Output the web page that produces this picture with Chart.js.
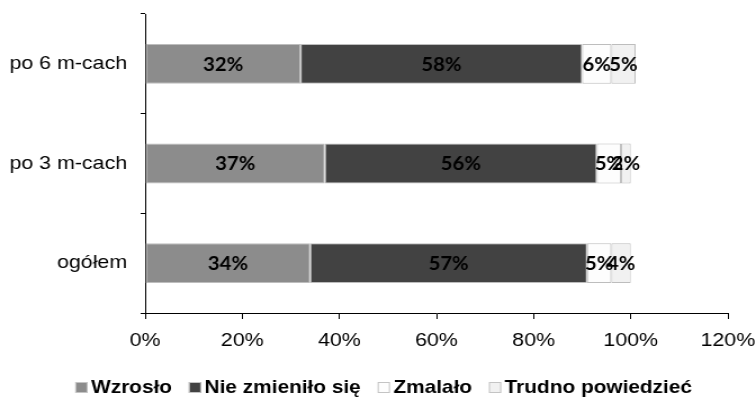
<!DOCTYPE html>
<html lang="pl">
<head>
<meta charset="utf-8">
<title>Ocena zmiany</title>
<script src="https://cdn.jsdelivr.net/npm/chart.js@4.4.1/dist/chart.umd.min.js"></script>
<style>
    html, body { margin: 0; padding: 0; background: #fff; overflow: hidden; }
    /* the reference is a little wider than tall in its text, so stretch the whole canvas */
    #wrap { width: 672px; height: 404px; transform: scaleX(1.125); transform-origin: 0 0; }
</style>
</head>
<body>
<div id="wrap"><canvas id="wykres" width="672" height="404"></canvas></div>
<script>
// ============================================================================
// DATA
// ============================================================================
const kategorie = ["po 6 m-cach", "po 3 m-cach", "ogółem"];
const nazwySerii = ["Wzrosło", "Nie zmieniło się", "Zmalało", "Trudno powiedzieć"];

const wzroslo     = [32, 37, 34];
const nieZmienilo = [58, 56, 57];
const zmalalo     = [6, 5, 5];
const trudno      = [5, 2, 4];

const tickiX = [0, 20, 40, 60, 80, 100, 120];

const kolory = ["#8c8c8c", "#424242", "#fdfdfd", "#f1f1f1"];

// ============================================================================
// PLUGIN: percentage labels in the middle of each segment
// ============================================================================
const etykietyPlugin = {
    id: "etykiety",
    afterDatasetsDraw(chart) {
        const ctx = chart.ctx;
        ctx.save();
        ctx.font = "bold 18px Lato, 'DejaVu Sans', sans-serif";
        ctx.fillStyle = "#000";
        ctx.textAlign = "center";
        ctx.textBaseline = "middle";
        chart.data.datasets.forEach((ds, i) => {
            chart.getDatasetMeta(i).data.forEach((bar, j) => {
                const p = bar.getProps(["x", "y", "base"], true);
                ctx.fillText(ds.data[j] + "%", (p.x + p.base) / 2, p.y + 1);
            });
        });
        ctx.restore();
    }
};

// ============================================================================
// PLUGIN: bottom legend (small square close to bold text, like Excel)
// ============================================================================
const legendaPlugin = {
    id: "legendaDol",
    afterDraw(chart) {
        const ctx = chart.ctx;
        const box = 11, gap = 3, odstep = 15;
        ctx.save();
        ctx.font = "bold 18.5px 'Liberation Sans', Arial, sans-serif";
        ctx.textBaseline = "alphabetic";
        ctx.textAlign = "left";

        const ds = chart.data.datasets;
        const szer = ds.map(d => ctx.measureText(d.label).width);
        const calosc = szer.reduce((a, w) => a + box + gap + w, 0) + odstep * (ds.length - 1);
        let x = (chart.width - calosc) / 2 + 5;
        const y = 393;

        ds.forEach((d, i) => {
            ctx.fillStyle = d.backgroundColor;
            ctx.fillRect(x, y - box, box, box);
            ctx.strokeStyle = "#c4c4c4";
            ctx.lineWidth = 1;
            ctx.strokeRect(x + 0.5, y - box + 0.5, box - 1, box - 1);
            ctx.fillStyle = "#000";
            ctx.fillText(d.label, x + box + gap, y);
            x += box + gap + szer[i] + odstep;
        });
        ctx.restore();
    }
};

// ============================================================================
// CHART
// ============================================================================
const serie = [wzroslo, nieZmienilo, zmalalo, trudno];

new Chart(document.getElementById("wykres"), {
    type: "bar",
    data: {
        labels: kategorie,
        datasets: serie.map((dane, i) => ({
            label: nazwySerii[i],
            data: dane,
            backgroundColor: kolory[i],
            borderColor: "#bdbdbd",
            borderWidth: 1,
            borderSkipped: false,
            barPercentage: 0.4,
            categoryPercentage: 1
        }))
    },
    options: {
        indexAxis: "y",
        responsive: false,
        animation: false,
        layout: { padding: { top: 14, right: 25, bottom: 53, left: 0 } },
        plugins: {
            legend: { display: false },
            tooltip: { enabled: false }
        },
        scales: {
            x: {
                stacked: true,
                min: 0,
                max: 120,
                afterBuildTicks: s => { s.ticks = tickiX.map(v => ({ value: v })); },
                // fixed height, and no extra room for the edge labels
                afterFit: s => { s.height = 38; s.paddingLeft = 0; s.paddingRight = 0; },
                grid: { drawOnChartArea: false, color: "#000", tickLength: 6 },
                border: { color: "#000", width: 1 },
                ticks: {
                    color: "#000",
                    padding: 10,
                    maxRotation: 0,
                    font: { family: "'Liberation Sans', Arial, sans-serif", size: 19 },
                    callback: v => v + "%"
                }
            },
            y: {
                stacked: true,
                afterFit: s => { s.width = 129; s.paddingTop = 0; s.paddingBottom = 0; },
                grid: { drawOnChartArea: false, color: "#000", tickLength: 4, offset: true },
                border: { color: "#000", width: 1 },
                ticks: {
                    color: "#000",
                    padding: 12,
                    font: { family: "'Liberation Sans', Arial, sans-serif", size: 19 }
                }
            }
        }
    },
    plugins: [etykietyPlugin, legendaPlugin]
});
</script>
</body>
</html>
